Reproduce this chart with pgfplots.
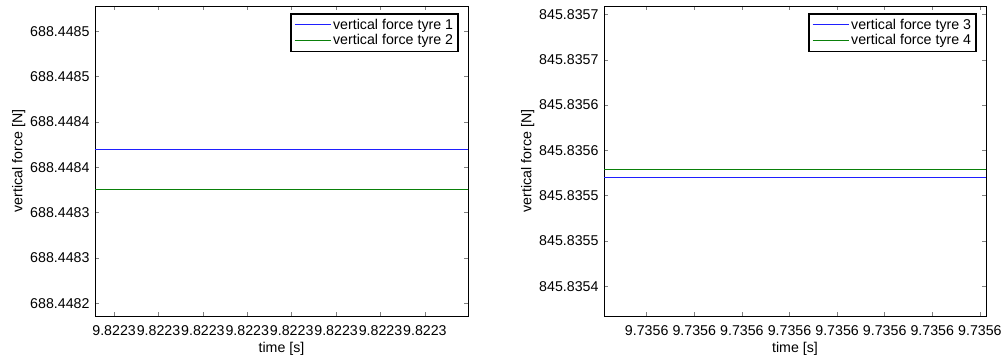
\documentclass[border=0pt]{standalone}
\usepackage{fontspec}
\setmainfont{Liberation Sans}
\usepackage{pgfplots}
\pgfplotsset{compat=1.18}
\definecolor{mblue}{rgb}{0.12,0.12,1}
\definecolor{mgreen}{rgb}{0.04,0.5,0.04}
\pgfplotsset{
  mystyle/.style={
    scale only axis,
    axis line style={line width=0.9pt},
    tick style={line width=0.6pt},
    major tick length=4pt,
    tick align=inside,
    xtick pos=both, ytick pos=both,
    tick label style={font=\fontsize{14.2}{16}\selectfont},
    xticklabel style={inner xsep=0pt, yshift=-6pt},
    yticklabel style={xshift=-2pt},
    label style={font=\fontsize{14.2}{16}\selectfont},
    ylabel style={yshift=-2pt},
    legend style={font=\fontsize{14.2}{16}\selectfont, line width=1.8pt,
      at={(1,1)}, xshift=-9pt, yshift=-7pt, anchor=north east,
      inner xsep=3pt, inner ysep=3pt, row sep=0pt},
    legend cell align=left,
    legend image code/.code={\draw[#1] (0pt,0pt) -- (36pt,0pt);},
    /pgf/number format/assume math mode=true,
  },
}
\begin{document}
\begin{tikzpicture}[x=1pt,y=1pt]
\path (0,0) rectangle (1005,356);
% ---------- left panel ----------
\begin{axis}[mystyle, at={(95pt,40pt)}, anchor=south west,
  width=373pt, height=310pt,
  xmin=-0.43, xmax=7.97, ymin=18.6, ymax=52.8,
  xtick={0,1,2,3,4,5,6,7},
  xticklabels={9.8223,9.8223,9.8223,9.8223,9.8223,9.8223,9.8223,9.8223},
  ytick={20,25,30,35,40,45,50},
  yticklabels={688.4482,688.4483,688.4483,688.4484,688.4484,688.4485,688.4485},
  xlabel={time [s]}, ylabel={vertical force [N]},
]
\addplot[color=mblue, line width=1pt] coordinates {(-0.43,37.02) (7.97,37.02)};
\addlegendentry{vertical force tyre 1}
\addplot[color=mgreen, line width=1pt] coordinates {(-0.43,32.57) (7.97,32.57)};
\addlegendentry{vertical force tyre 2}
\end{axis}
% ---------- right panel ----------
\begin{axis}[mystyle, at={(604pt,40pt)}, anchor=south west,
  width=382pt, height=310pt,
  xmin=-0.897, xmax=7.128, ymin=36.72, ymax=70.94,
  xtick={0,1,2,3,4,5,6,7},
  xticklabels={9.7356,9.7356,9.7356,9.7356,9.7356,9.7356,9.7356,9.7356},
  ytick={40,45,50,55,60,65,70},
  yticklabels={845.8354,845.8355,845.8355,845.8356,845.8356,845.8357,845.8357},
  xlabel={time [s]}, ylabel={vertical force [N]},
]
\addplot[color=mblue, line width=1pt] coordinates {(-0.897,52.06) (7.128,52.06)};
\addlegendentry{vertical force tyre 3}
\addplot[color=mgreen, line width=1pt] coordinates {(-0.897,52.87) (7.128,52.87)};
\addlegendentry{vertical force tyre 4}
\end{axis}
\end{tikzpicture}
\end{document}
